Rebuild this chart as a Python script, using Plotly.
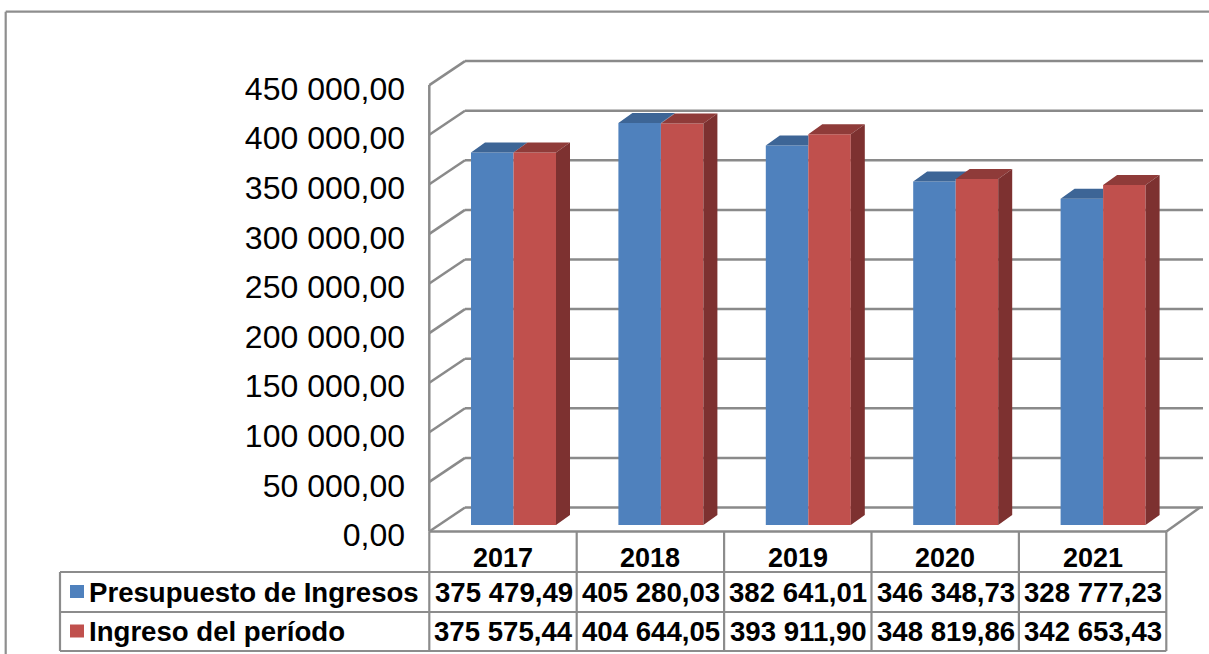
import plotly.graph_objects as go

# ---------------- data ----------------
years = ["2017", "2018", "2019", "2020", "2021"]
presupuesto = [375479.49, 405280.03, 382641.01, 346348.73, 328777.23]
ingreso = [375575.44, 404644.05, 393911.90, 348819.86, 342653.43]
series_names = ["Presupuesto de Ingresos", "Ingreso del período"]
y_ticks = [0, 50000, 100000, 150000, 200000, 250000, 300000, 350000, 400000, 450000]

# ---------------- styles ----------------
front_colors = ["#4F81BD", "#C0504D"]
top_colors = ["#3D6596", "#8F3B39"]
side_colors = ["#3A5F8C", "#7D3130"]
grid_color = "#8A8A8A"
table_color = "#8C8C8C"
FONT = "Liberation Sans, Arial, sans-serif"

# ---------------- geometry (pixels) ----------------
W, H = 1209, 654
PL, PR = 420, 1209           # plot area horizontal extent
CX0, XU = 503.0, 147.4       # pixel of first category centre, pixels per category
YU = 49.6 / 50000            # pixels per value unit
BAR_BASE = 525.0             # baseline of the bar front faces
LABEL_BASE = 535.0           # baseline used for the value-axis labels
FRONT_BASE = 531.5           # front plane floor
BACK_BASE = 507.5            # back wall floor
FRONT_LEFT, BACK_LEFT, BACK_RIGHT, FLOOR_RIGHT = 429.3, 465.0, 1203.0, 1166.3
DX_PX, DY_PX = 14.0, 10.0    # bar depth
BAR_W_PX = 42.5
BAR_LEFT_PX = [471.0, 513.5]
ROW_Y = [531.5, 572.0, 612.0, 651.0]
TABLE_LEFT = 60.0


def pxx(xp):
    return (xp - PL) / (PR - PL)


def pyy(yp):
    return 1 - yp / H


def vpix(v, base):
    return base - v * YU


fig = go.Figure()

idx = list(range(len(years)))
bar_w = BAR_W_PX / XU
offsets = [(b - CX0) / XU for b in BAR_LEFT_PX]
dxu = DX_PX / XU
dyv = DY_PX / YU
values = [presupuesto, ingreso]

# front faces
for s in range(2):
    fig.add_trace(go.Bar(
        x=idx, y=values[s], width=bar_w, offset=offsets[s], name=series_names[s],
        marker=dict(color=front_colors[s], line=dict(width=0)),
        showlegend=False, hoverinfo="skip"))

# 3D faces (computed from the values)
blue_top_x, blue_top_y = [], []
blue_side_x, blue_side_y = [], []
red_top_x, red_top_y = [], []
red_side_x, red_side_y = [], []
for i in idx:
    hb, hr = presupuesto[i], ingreso[i]
    xl = i + offsets[0]
    xm = xl + bar_w
    if hr <= hb:
        px_ = [xl, xm, xm + dxu, xl + dxu, xl]
        py_ = [hb, hb, hb + dyv, hb + dyv, hb]
    elif hr >= hb + dyv:
        px_ = [xl, xm, xm, xl + dxu, xl]
        py_ = [hb, hb, hb + dyv, hb + dyv, hb]
    else:
        gx = xm + dxu * (hr - hb) / dyv
        px_ = [xl, xm, xm, gx, xm + dxu, xl + dxu, xl]
        py_ = [hb, hb, hr, hr, hb + dyv, hb + dyv, hb]
    blue_top_x += px_ + [None]
    blue_top_y += py_ + [None]
    if hb > hr:
        blue_side_x += [xm, xm, xm + dxu, xm + dxu, xm, None]
        blue_side_y += [hr, hb, hb + dyv, hr + dyv, hr, None]
    xl2 = i + offsets[1]
    xr = xl2 + bar_w
    red_top_x += [xl2, xr, xr + dxu, xl2 + dxu, xl2, None]
    red_top_y += [hr, hr, hr + dyv, hr + dyv, hr, None]
    red_side_x += [xr, xr + dxu, xr + dxu, xr, xr, None]
    red_side_y += [0, dyv, hr + dyv, hr, 0, None]

for fx, fy, col in [(blue_top_x, blue_top_y, top_colors[0]),
                    (blue_side_x, blue_side_y, side_colors[0]),
                    (red_top_x, red_top_y, top_colors[1]),
                    (red_side_x, red_side_y, side_colors[1])]:
    if not fx:
        continue
    fig.add_trace(go.Scatter(x=fx, y=fy, mode="lines", fill="toself",
                             fillcolor=col, line=dict(width=0, color=col),
                             showlegend=False, hoverinfo="skip"))

# dummy trace for the label axis
fig.add_trace(go.Scatter(x=[0], y=[0], yaxis="y2", mode="markers",
                         marker=dict(opacity=0), showlegend=False, hoverinfo="skip"))

shapes = []


def line(x0, y0, x1, y1, color=grid_color, width=2.5):
    shapes.append(dict(type="line", xref="paper", yref="paper",
                       x0=pxx(x0), y0=pyy(y0), x1=pxx(x1), y1=pyy(y1),
                       line=dict(color=color, width=width), layer="below"))


# back wall gridlines and side wall
for v in y_ticks:
    line(BACK_LEFT, vpix(v, BACK_BASE), BACK_RIGHT, vpix(v, BACK_BASE))
    line(FRONT_LEFT, vpix(v, FRONT_BASE), BACK_LEFT, vpix(v, BACK_BASE))
line(FRONT_LEFT, FRONT_BASE, FRONT_LEFT, vpix(max(y_ticks), FRONT_BASE))
# floor
line(FRONT_LEFT, FRONT_BASE, FLOOR_RIGHT, FRONT_BASE)
line(FLOOR_RIGHT, FRONT_BASE, BACK_RIGHT - 3, BACK_BASE)

# data table
for ry in ROW_Y[1:]:
    line(TABLE_LEFT, ry, FLOOR_RIGHT, ry, color=table_color, width=2.2)
for k in range(len(years) + 1):
    cx = CX0 + XU * (k - 0.5)
    line(cx, ROW_Y[0], cx, ROW_Y[-1], color=table_color, width=2.2)
line(TABLE_LEFT, ROW_Y[1], TABLE_LEFT, ROW_Y[-1], color=table_color, width=2.2)

# outer chart border
line(5.7, 11.7, W + 5, 11.7, color="#8E8E8E", width=2.2)
line(5.7, 11.7, 5.7, H + 5, color="#8E8E8E", width=2.2)

# legend keys in table
for s in range(2):
    cy = (ROW_Y[s + 1] + ROW_Y[s + 2]) / 2
    shapes.append(dict(type="rect", xref="paper", yref="paper",
                       x0=pxx(70), x1=pxx(84), y0=pyy(cy - 7), y1=pyy(cy + 6),
                       fillcolor=front_colors[s], line=dict(width=0), layer="below"))


def fmt(v):
    s = f"{v:,.2f}"
    return s.replace(",", " ").replace(".", ",")


annotations = []
tfont = dict(family=FONT, size=27.6, color="black", weight="bold")
yfont = dict(family=FONT, size=27, color="black", weight="bold")
for i, yr in enumerate(years):
    cx = CX0 + XU * i
    annotations.append(dict(xref="paper", yref="paper", x=pxx(cx), y=pyy(558),
                            text=yr, showarrow=False, xanchor="center",
                            yanchor="middle", font=yfont))
    for s in range(2):
        cy = (ROW_Y[s + 1] + ROW_Y[s + 2]) / 2
        annotations.append(dict(xref="paper", yref="paper", x=pxx(cx + 0.5), y=pyy(cy),
                                text=fmt(values[s][i]), showarrow=False,
                                xanchor="center", yanchor="middle", font=tfont))
for s in range(2):
    cy = (ROW_Y[s + 1] + ROW_Y[s + 2]) / 2
    annotations.append(dict(xref="paper", yref="paper", x=pxx(87), y=pyy(cy),
                            text=series_names[s], showarrow=False,
                            xanchor="left", yanchor="middle", font=tfont))

fig.update_layout(
    width=W, height=H,
    margin=dict(l=PL, r=W - PR, t=0, b=0, pad=0),
    paper_bgcolor="white", plot_bgcolor="rgba(0,0,0,0)",
    barmode="overlay", showlegend=False, hovermode=False,
    separators=", ",
    xaxis=dict(range=[(PL - CX0) / XU, (PR - CX0) / XU], showgrid=False,
               zeroline=False, showticklabels=False, showline=False, fixedrange=True),
    yaxis=dict(range=[-(H - BAR_BASE) / YU, BAR_BASE / YU], showgrid=False,
               zeroline=False, showticklabels=False, showline=False, fixedrange=True),
    yaxis2=dict(range=[-(H - LABEL_BASE) / YU, LABEL_BASE / YU], overlaying="y",
                side="left", anchor="x", tickvals=y_ticks, tickformat=",.2f",
                showgrid=False, zeroline=False, showline=False, ticks="",
                ticklabelstandoff=14,
                tickfont=dict(family=FONT, size=32, color="black"), fixedrange=True),
    shapes=shapes,
    annotations=annotations,
)

fig.write_html("out.html", config={"displayModeBar": False},
               post_script="document.body.style.margin='0';document.body.style.overflow='hidden';")
